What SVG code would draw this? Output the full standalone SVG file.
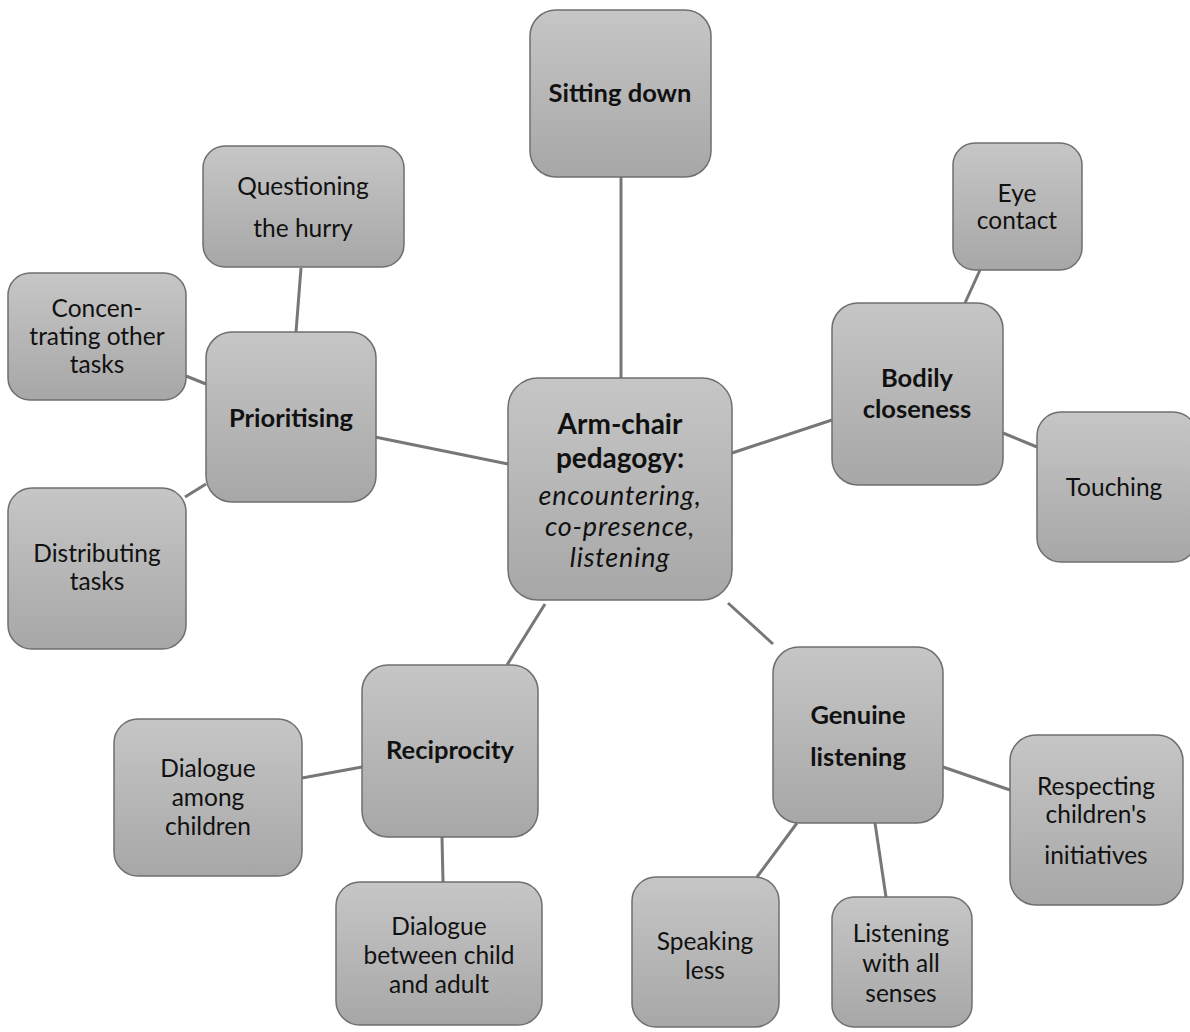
<svg xmlns="http://www.w3.org/2000/svg" width="1190" height="1032" viewBox="0 0 1190 1032">
<defs>
<linearGradient id="g" x1="0" y1="0" x2="0" y2="1">
<stop offset="0" stop-color="#c6c6c6"/>
<stop offset="1" stop-color="#a7a7a7"/>
</linearGradient>
</defs>
<style>
.n{fill:url(#g);stroke:#6f6f6f;stroke-width:1.5}
.c line{stroke:#777;stroke-width:3}
text{font-family:Lato,"Liberation Sans",sans-serif;font-size:24.5px;fill:#111;text-anchor:middle}
.b{font-weight:bold;font-size:25.5px}
.ce{font-size:28px}
.i{font-style:italic;font-size:27px;letter-spacing:0.8px}
</style>
<rect width="1190" height="1032" fill="#fff"/>
<g class="c" id="connectors">
<line x1="621" y1="177" x2="621" y2="378"/>
<line x1="301" y1="268" x2="296" y2="332"/>
<line x1="186" y1="376" x2="206" y2="384"/>
<line x1="185" y1="497" x2="206" y2="484"/>
<line x1="375" y1="437" x2="508" y2="464"/>
<line x1="732" y1="453" x2="832" y2="420"/>
<line x1="980" y1="270" x2="965" y2="303"/>
<line x1="1003" y1="433" x2="1037" y2="447"/>
<line x1="728" y1="603" x2="773" y2="644"/>
<line x1="545" y1="604" x2="507" y2="665"/>
<line x1="362" y1="767" x2="302" y2="778"/>
<line x1="442" y1="837" x2="443" y2="882"/>
<line x1="943" y1="767" x2="1010" y2="790"/>
<line x1="797" y1="823" x2="757" y2="877"/>
<line x1="875" y1="823" x2="886" y2="897"/>
</g>
<g id="sitting-down"><rect class="n" x="530" y="10" width="181" height="167" rx="26"/><text class="b" x="620" y="102">Sitting down</text></g>
<g id="questioning"><rect class="n" x="203" y="146" width="201" height="121" rx="22"/><text x="303" y="195">Questioning</text><text x="303" y="237">the hurry</text></g>
<g id="concentrating"><rect class="n" x="8" y="273" width="178" height="127" rx="22"/><text x="97" y="317">Concen-</text><text x="97" y="345">trating other</text><text x="97" y="373">tasks</text></g>
<g id="prioritising"><rect class="n" x="206" y="332" width="170" height="170" rx="26"/><text class="b" x="291" y="427">Prioritising</text></g>
<g id="distributing"><rect class="n" x="8" y="488" width="178" height="161" rx="24"/><text x="97" y="562">Distributing</text><text x="97" y="590">tasks</text></g>
<g id="center"><rect class="n" x="508" y="378" width="224" height="222" rx="30"/><text class="b ce" x="620" y="434">Arm-chair</text><text class="b ce" x="620" y="468">pedagogy:</text><text class="i" x="620" y="505">encountering,</text><text class="i" x="620" y="536">co-presence,</text><text class="i" x="620" y="567">listening</text></g>
<g id="eye-contact"><rect class="n" x="953" y="143" width="129" height="127" rx="22"/><text x="1017" y="202">Eye</text><text x="1017" y="229">contact</text></g>
<g id="bodily"><rect class="n" x="832" y="303" width="171" height="182" rx="26"/><text class="b" x="917" y="387">Bodily</text><text class="b" x="917" y="418">closeness</text></g>
<g id="touching"><rect class="n" x="1037" y="412" width="160" height="150" rx="24"/><text x="1114" y="496">Touching</text></g>
<g id="genuine"><rect class="n" x="773" y="647" width="170" height="176" rx="26"/><text class="b" x="858" y="724">Genuine</text><text class="b" x="858" y="766">listening</text></g>
<g id="respecting"><rect class="n" x="1010" y="735" width="173" height="170" rx="26"/><text x="1096" y="795">Respecting</text><text x="1096" y="823">children's</text><text x="1096" y="864">initiatives</text></g>
<g id="reciprocity"><rect class="n" x="362" y="665" width="176" height="172" rx="26"/><text class="b" x="450" y="759">Reciprocity</text></g>
<g id="dialogue-among"><rect class="n" x="114" y="719" width="188" height="157" rx="24"/><text x="208" y="777">Dialogue</text><text x="208" y="806">among</text><text x="208" y="835">children</text></g>
<g id="dialogue-between"><rect class="n" x="336" y="882" width="206" height="143" rx="24"/><text x="439" y="935">Dialogue</text><text x="439" y="964">between  child</text><text x="439" y="993">and adult</text></g>
<g id="speaking-less"><rect class="n" x="632" y="877" width="147" height="150" rx="24"/><text x="705" y="950">Speaking</text><text x="705" y="979">less</text></g>
<g id="listening-all"><rect class="n" x="832" y="897" width="140" height="130" rx="22"/><text x="901" y="942">Listening</text><text x="901" y="972">with all</text><text x="901" y="1002">senses</text></g>
</svg>
